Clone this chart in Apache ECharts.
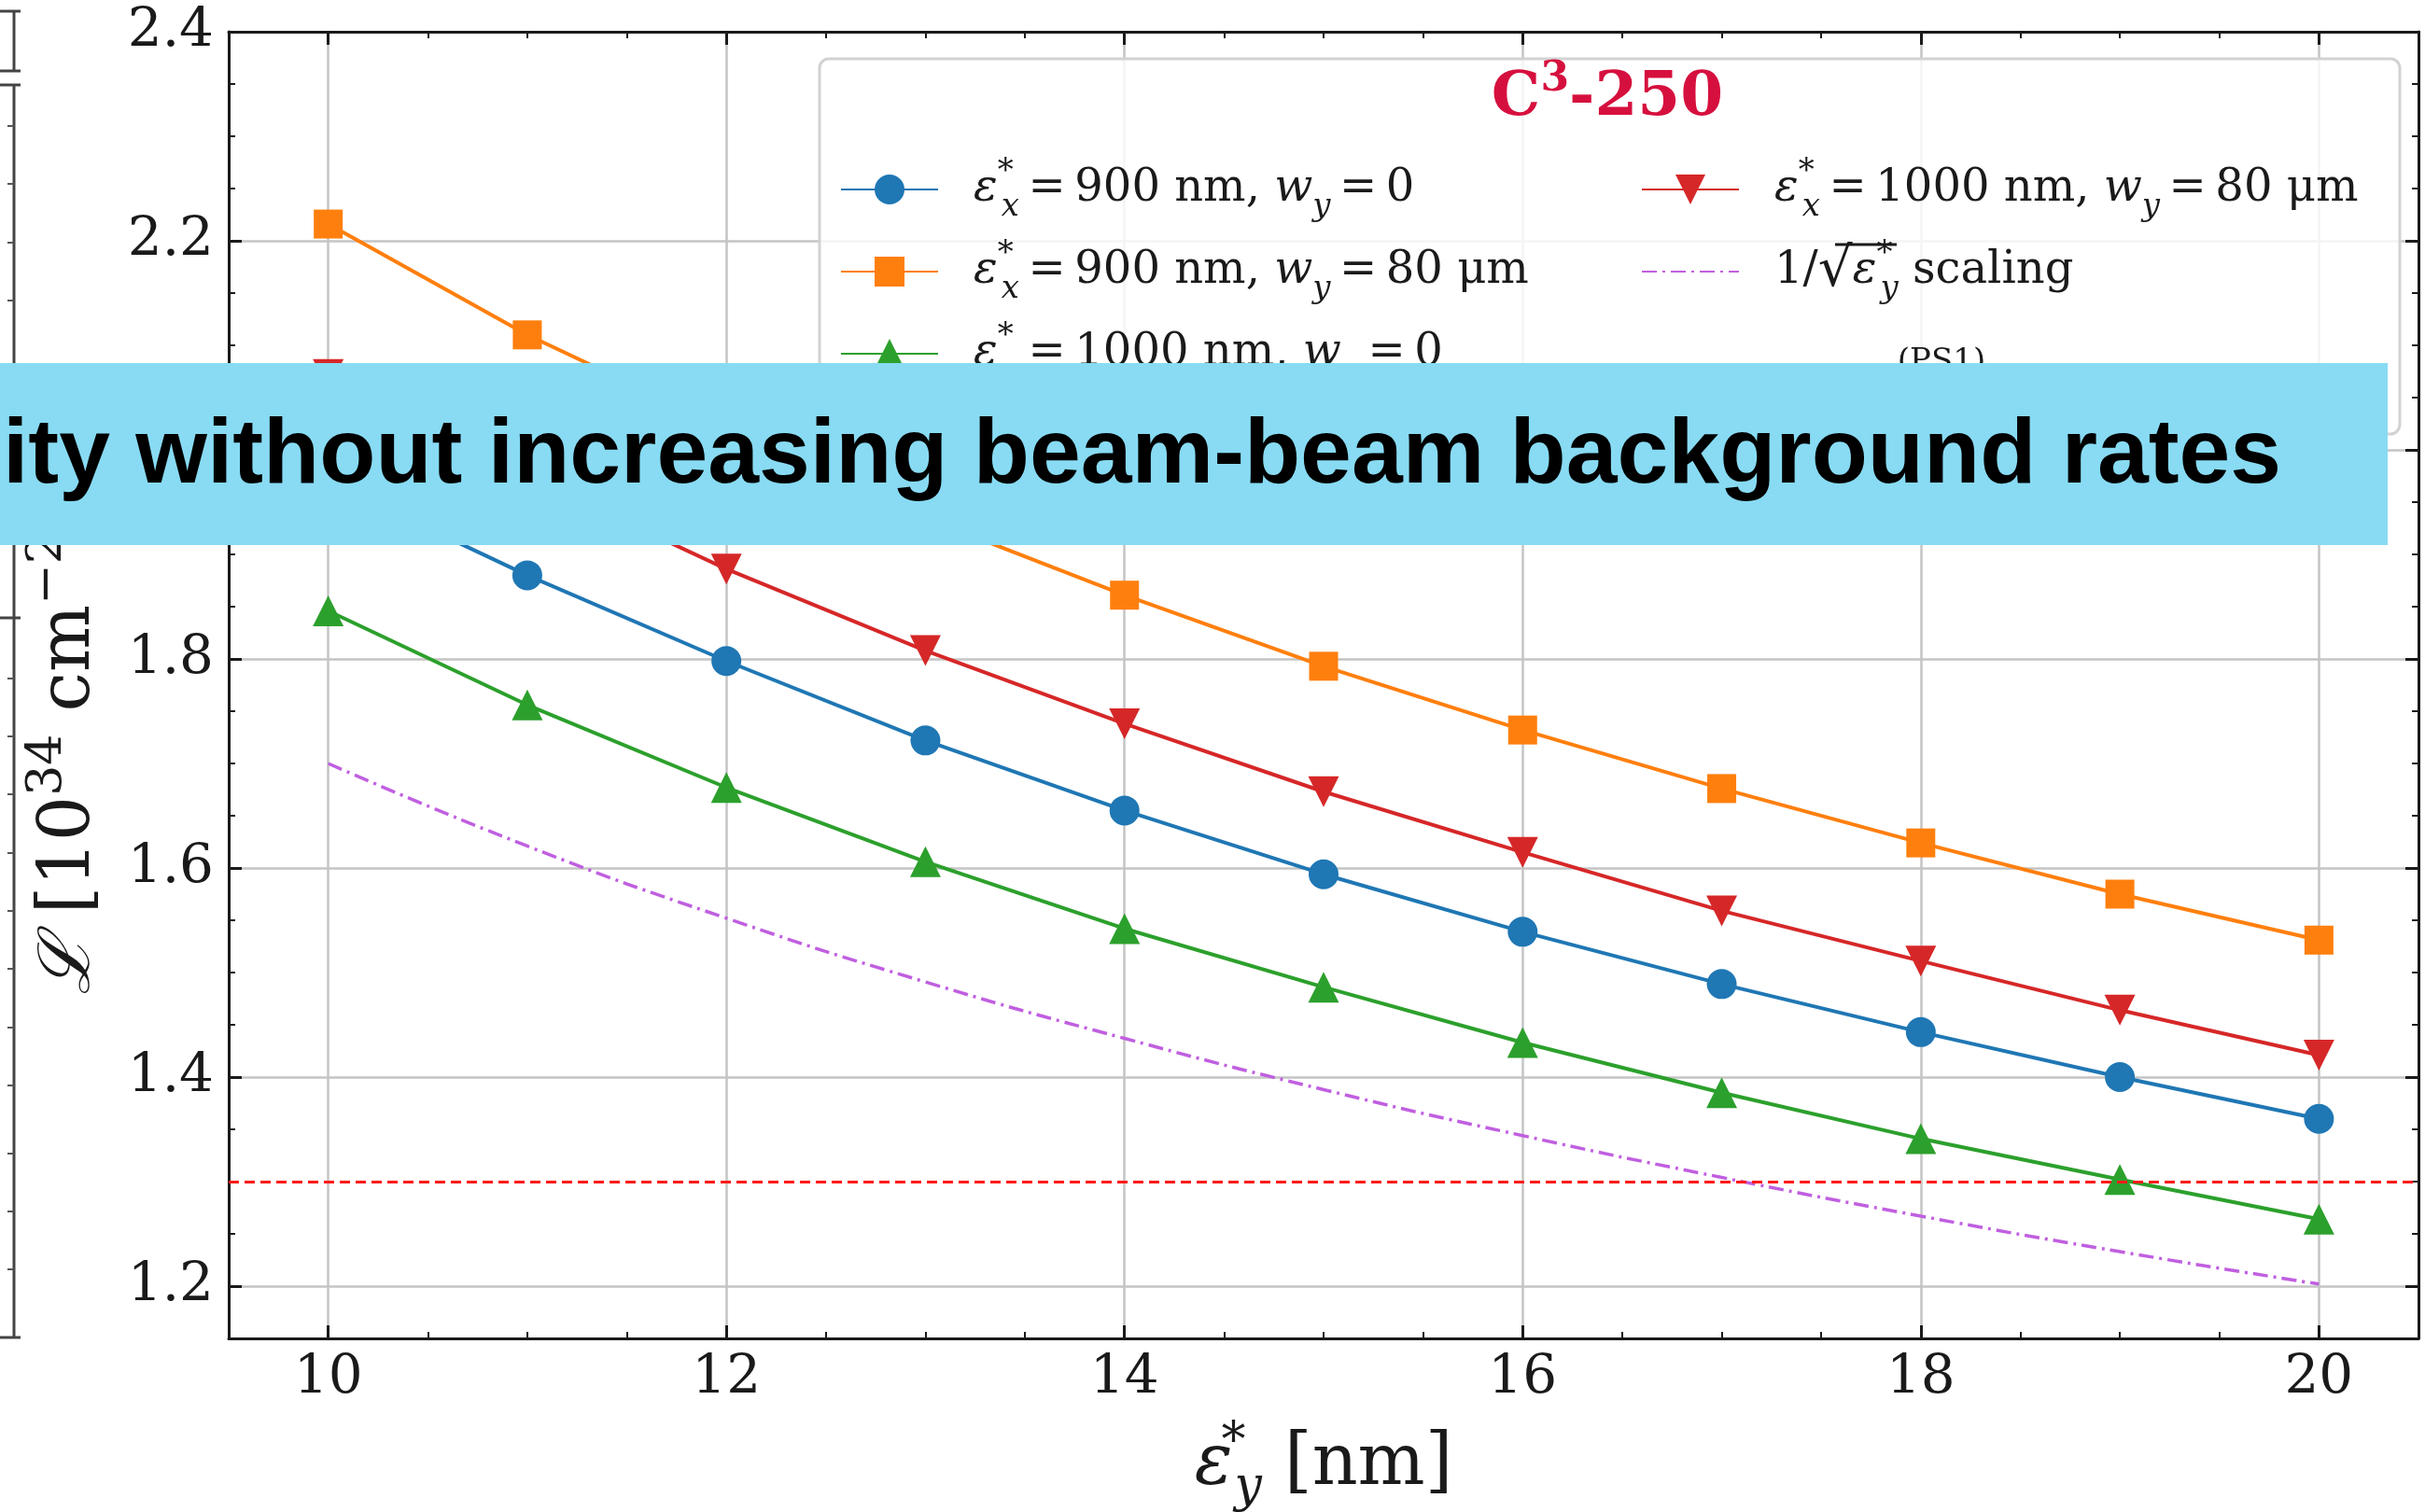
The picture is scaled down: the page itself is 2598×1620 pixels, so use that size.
<!DOCTYPE html>
<html>
<head>
<meta charset="utf-8">
<title>C3-250 luminosity vs vertical emittance</title>
<script src="https://cdn.jsdelivr.net/npm/echarts@6/dist/echarts.min.js"></script>
<style>
  html, body { margin: 0; padding: 0; background: #fff; }
  #chart { width: 2598px; height: 1620px; }
</style>
</head>
<body>
<div id="chart"></div>
<script>
// vertical emittance eps_y* [nm]
const epsY = [10, 11, 12, 13, 14, 15, 16, 17, 18, 19, 20];
// luminosity [1e34 cm^-2 s^-1]
const lum900w0 = [1.970, 1.880, 1.798, 1.722, 1.655, 1.594, 1.539, 1.489, 1.443, 1.400, 1.360];
const lum900w80 = [2.216, 2.110, 2.020, 1.935, 1.861, 1.793, 1.732, 1.676, 1.624, 1.575, 1.531];
const lum1000w0 = [1.846, 1.756, 1.677, 1.606, 1.542, 1.486, 1.433, 1.385, 1.341, 1.302, 1.264];
const lum1000w80 = [2.072, 1.975, 1.886, 1.808, 1.738, 1.673, 1.615, 1.559, 1.511, 1.464, 1.421];
const lumScaling = [1.700, 1.621, 1.552, 1.491, 1.437, 1.388, 1.344, 1.304, 1.267, 1.233, 1.202];
const lumTarget = 1.3;

const xTicks = [10, 12, 14, 16, 18, 20];
const yTicks = [1.2, 1.4, 1.6, 1.8, 2.0, 2.2, 2.4];

const SERIF = '"DejaVu Serif", serif';
const INK = '#1a1a1a';
const EQ = '\u2009=\u2009'; // tight math-style spacing round "="

const pts = arr => epsY.map((x, i) => [x, arr[i]]);

const legendText = {
  b: '{e0|ε}{sp|*}{sb|x}{t|' + EQ + '900 nm, }{i|w}{sb2|y}{t|' + EQ + '0}',
  o: '{e0|ε}{sp|*}{sb|x}{t|' + EQ + '900 nm, }{i|w}{sb2|y}{t|' + EQ + '80 μm}',
  g: '{e0|ε}{sp|*}{sb|x}{t|' + EQ + '1000 nm, }{i|w}{sb2|y}{t|' + EQ + '0}',
  r: '{e0|ε}{sp|*}{sb|x}{t|' + EQ + '1000 nm, }{i|w}{sb2|y}{t|' + EQ + '80 μm}',
  s: '{t0|1/}{rt|√}{i|ε}{sp|*}{sb|y}{t| scaling}'
};

const LF = 48;
const legendRich = {
  e0: { fontFamily: SERIF, fontStyle: 'italic', fontSize: LF, lineHeight: 72, color: INK, padding: [0, 0, 0, 33] },
  t0: { fontFamily: SERIF, fontSize: LF, lineHeight: 72, color: INK, padding: [0, 0, 0, 33] },
  rt: { fontFamily: SERIF, fontSize: 58, lineHeight: 72, color: INK },
  t: { fontFamily: SERIF, fontSize: LF, lineHeight: 72, color: INK },
  i: { fontFamily: SERIF, fontStyle: 'italic', fontSize: LF, lineHeight: 72, color: INK },
  sp: { fontFamily: SERIF, fontSize: 34, lineHeight: 34, verticalAlign: 'top', color: INK, width: 2 },
  sb: { fontFamily: SERIF, fontStyle: 'italic', fontSize: 34, lineHeight: 34, verticalAlign: 'bottom', color: INK, padding: [0, 0, 0, 2] },
  sb2: { fontFamily: SERIF, fontStyle: 'italic', fontSize: 34, lineHeight: 34, verticalAlign: 'bottom', color: INK }
};

const NF = 76;
const nameRich = {
  t: { fontFamily: SERIF, fontSize: NF, lineHeight: 100, color: INK },
  i: { fontFamily: SERIF, fontStyle: 'italic', fontSize: NF, lineHeight: 100, color: INK },
  sp: { fontFamily: SERIF, fontSize: 52, lineHeight: 52, verticalAlign: 'top', color: INK },
  spw: { fontFamily: SERIF, fontSize: 52, lineHeight: 52, verticalAlign: 'top', color: INK, width: 2 },
  sb: { fontFamily: SERIF, fontStyle: 'italic', fontSize: 52, lineHeight: 52, verticalAlign: 'bottom', color: INK }
};

const frame = { color: INK, width: 3 };

function majorAxis(min, max, pos, ticks, withLabels) {
  return {
    type: 'value', min: min, max: max, position: pos,
    axisLine: { show: true, onZero: false, lineStyle: frame },
    axisTick: { show: true, inside: true, length: 14, customValues: ticks, lineStyle: frame },
    axisLabel: withLabels ? {
      show: true, customValues: ticks, fontFamily: SERIF, fontSize: 58, color: INK,
      margin: pos === 'left' ? 16 : 14,
      formatter: v => (pos === 'left' ? v.toFixed(1) : String(v))
    } : { show: false },
    splitLine: { show: withLabels, lineStyle: { color: '#c4c4c4', width: 2.5 } }
  };
}

function minorAxis(min, max, pos, step) {
  return {
    type: 'value', min: min, max: max, interval: step, position: pos,
    axisLine: { show: false, onZero: false },
    axisTick: { show: true, inside: true, length: 7, lineStyle: { color: INK, width: 2 } },
    axisLabel: { show: false },
    splitLine: { show: false }
  };
}

const xMain = majorAxis(9.5, 20.5, 'bottom', xTicks, true);
xMain.name = '{i|ε}{spw|*}{sb|y}{t| [nm]}';
xMain.nameLocation = 'middle';
xMain.nameGap = 86;
xMain.nameTextStyle = { rich: nameRich };

const yMain = majorAxis(1.15, 2.4, 'left', yTicks, true);
yMain.name = '{i|ℒ}{t| [10}{sp|34}{t| cm}{sp|−2}{t| s}{sp|−1}{t|]}';
yMain.nameLocation = 'middle';
yMain.nameRotate = 90;
yMain.nameGap = 120;
yMain.nameTextStyle = { rich: nameRich };

function lineSeries(name, data, color, symbol, size) {
  return {
    name: name, type: 'line', data: pts(data),
    xAxisIndex: 0, yAxisIndex: 0,
    symbol: symbol, symbolSize: size, showSymbol: true,
    lineStyle: { color: color, width: 4 },
    itemStyle: { color: color },
    z: 3
  };
}

const downTriangle = 'path://M0,0 L20,0 L10,20 Z';

const chart = echarts.init(document.getElementById('chart'));

// bits of the neighbouring panel's frame cut off at the left edge
const leftFrame = [
  [15, 91, 15, 1433], [0, 91, 22, 91], [0, 1433, 22, 1433],
  [15, 12, 15, 76], [0, 12, 22, 12], [0, 76, 22, 76], [0, 662, 22, 662]
];
const leftTicks = [135, 197, 260, 322, 727, 789, 851, 914, 976, 1038, 1101, 1163, 1236, 1298, 1360];

const graphics = [];
leftFrame.forEach(s => graphics.push({
  type: 'line', shape: { x1: s[0], y1: s[1], x2: s[2], y2: s[3] },
  style: { stroke: '#444', lineWidth: 3 }, z: 1
}));
leftTicks.forEach(y => graphics.push({
  type: 'line', shape: { x1: 8, y1: y, x2: 15, y2: y },
  style: { stroke: '#555', lineWidth: 2 }, z: 1
}));

// legend frame and heading
graphics.push({
  type: 'rect', shape: { x: 878, y: 63, width: 1693, height: 402, r: 10 },
  style: { fill: 'rgba(255,255,255,0.82)', stroke: '#d2d2d2', lineWidth: 3 }, z: 3
});
graphics.push({
  type: 'text', x: 1722, y: 106,
  style: {
    text: '{c|C}{s|3}{c|-250}',
    align: 'center', verticalAlign: 'middle', textAlign: 'center', textVerticalAlign: 'middle',
    rich: {
      c: { fontFamily: SERIF, fontWeight: 'bold', fontSize: 66, lineHeight: 84, fill: '#d6103e', color: '#d6103e' },
      s: { fontFamily: SERIF, fontWeight: 'bold', fontSize: 44, lineHeight: 44, verticalAlign: 'top', fill: '#d6103e', color: '#d6103e' }
    }
  },
  z: 5
});
// overbar of the square root in the scaling entry
graphics.push({
  type: 'line', shape: { x1: 1966, y1: 262, x2: 2032, y2: 262 },
  style: { stroke: INK, lineWidth: 3 }, z: 6
});
graphics.push({
  type: 'text', x: 2080, y: 371,
  style: { text: '(PS1)', font: '34px "DejaVu Serif"', fill: INK, align: 'center', verticalAlign: 'top', textAlign: 'center', textVerticalAlign: 'top' },
  z: 5
});

// caption strip laid over the figure
graphics.push({
  type: 'rect', shape: { x: 0, y: 389, width: 2558, height: 195 },
  style: { fill: '#88dbf3' }, z: 100
});
graphics.push({
  type: 'text', x: 3, y: 490,
  style: {
    text: 'ity without increasing beam-beam background rates',
    font: 'bold 98.5px "Liberation Sans", Arial, sans-serif', fill: '#000',
    align: 'left', verticalAlign: 'middle', textAlign: 'left', textVerticalAlign: 'middle'
  },
  z: 101
});

const legendBase = {
  orient: 'vertical', itemWidth: 104, itemHeight: 40, itemGap: 16,
  selectedMode: false, formatter: n => legendText[n],
  textStyle: { rich: legendRich }, z: 5
};

chart.setOption({
  animation: false,
  backgroundColor: '#fff',
  grid: { left: 245, right: 7, top: 34, bottom: 186, outerBoundsMode: 'none' },
  xAxis: [
    xMain,
    minorAxis(9.5, 20.5, 'bottom', 0.5),
    majorAxis(9.5, 20.5, 'top', xTicks, false),
    minorAxis(9.5, 20.5, 'top', 0.5)
  ],
  yAxis: [
    yMain,
    minorAxis(1.15, 2.4, 'left', 0.05),
    majorAxis(1.15, 2.4, 'right', yTicks, false),
    minorAxis(1.15, 2.4, 'right', 0.05)
  ],
  legend: [
    Object.assign({}, legendBase, { left: 895, top: 162, data: ['b', 'o', 'g'] }),
    Object.assign({}, legendBase, { left: 1753, top: 162, data: ['r', { name: 's', itemStyle: { opacity: 0 } }] })
  ],
  graphic: graphics,
  series: [
    {
      name: 's', type: 'line', data: pts(lumScaling), smooth: true,
      symbol: 'none', showSymbol: false,
      lineStyle: { color: '#c05fe0', width: 3.5, type: [16, 6, 3, 6] },
      itemStyle: { color: '#c05fe0' },
      z: 2,
      markLine: {
        silent: true, symbol: 'none', label: { show: false },
        lineStyle: { color: '#ff1a1a', width: 3, type: [11, 6] },
        data: [{ yAxis: lumTarget }]
      }
    },
    lineSeries('b', lum900w0, '#1f77b4', 'circle', 32),
    lineSeries('o', lum900w80, '#ff7f0e', 'rect', 31),
    lineSeries('g', lum1000w0, '#2ca02c', 'triangle', 33),
    lineSeries('r', lum1000w80, '#d62728', downTriangle, 33)
  ]
});
</script>
</body>
</html>
